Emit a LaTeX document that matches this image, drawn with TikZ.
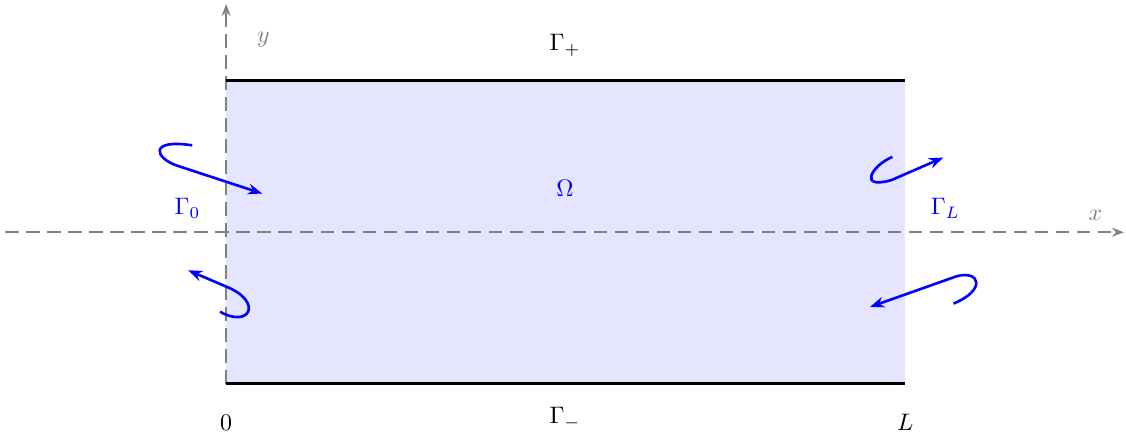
\documentclass[tikz,border=0pt]{standalone}
\usetikzlibrary{arrows.meta}

\tikzset{
  axis/.style={gray,thick,dash pattern=on 5.6pt off 3.2pt,-{Stealth[length=5pt]}},
  wall/.style={very thick},
  flow/.style={blue,line width=1.1pt,-{Stealth[length=6pt]}}
}

\begin{document}
\begin{tikzpicture}
  \def\L{10}
  \def\H{2.23}
  \useasboundingbox (-3.33,-2.97) rectangle (13.25,3.42);
  % domain
  \fill[blue!10] (0,-\H) rectangle (\L,\H);
  % axes
  \coordinate (xs) at (-3.25,0); \coordinate (xe) at (13.22,0);
  \coordinate (ys) at (0,-\H); \coordinate (ye) at (0,3.36);
  \draw[axis] (xs) -- (xe);
  \draw[axis] (ys) -- (ye);
  \node[gray] (xlab) at (12.8,0.25) {$x$};
  \node[gray] (ylab) at (0.55,2.83) {$y$};
  % walls
  \coordinate (tl) at (0,\H); \coordinate (tr) at (\L,\H);
  \coordinate (bl) at (0,-\H); \coordinate (br) at (\L,-\H);
  \draw[wall] (tl) -- (tr);
  \draw[wall] (bl) -- (br);
  \node (gp) at (4.99,2.75) {$\Gamma_+$};
  \node (gm) at (4.99,-2.74) {$\Gamma_-$};
  \node (zero) at (0,-2.8) {$0$};
  \node (len) at (\L,-2.8) {$L$};
  \node[blue] (om) at (4.99,0.65) {$\Omega$};
  \node[blue] (g0) at (-0.57,0.35) {$\Gamma_0$};
  \node[blue] (gL) at (10.59,0.35) {$\Gamma_L$};
  % inflow / outflow
  \coordinate (a1) at (-0.5,1.28); \coordinate (a2) at (-0.72,0.98); \coordinate (a3) at (0.53,0.57);
  \draw[flow] (a1) .. controls (-1.15,1.38) and (-1.05,1.09) .. (a2) -- (a3);
  \coordinate (b1) at (-0.09,-1.17); \coordinate (b2) at (0.0,-0.8); \coordinate (b3) at (-0.56,-0.56);
  \draw[flow] (b1) .. controls (0.35,-1.42) and (0.55,-1.02) .. (b2) -- (b3);
  \coordinate (c1) at (9.81,1.11); \coordinate (c2) at (9.8,0.77); \coordinate (c3) at (10.56,1.10);
  \draw[flow] (c1) .. controls (9.5,0.98) and (9.3,0.62) .. (c2) -- (c3);
  \coordinate (d1) at (10.71,-1.05); \coordinate (d2) at (10.75,-0.65); \coordinate (d3) at (9.48,-1.10);
  \draw[flow] (d1) .. controls (11.2,-0.85) and (11.1,-0.55) .. (d2) -- (d3);
\end{tikzpicture}
\end{document}
